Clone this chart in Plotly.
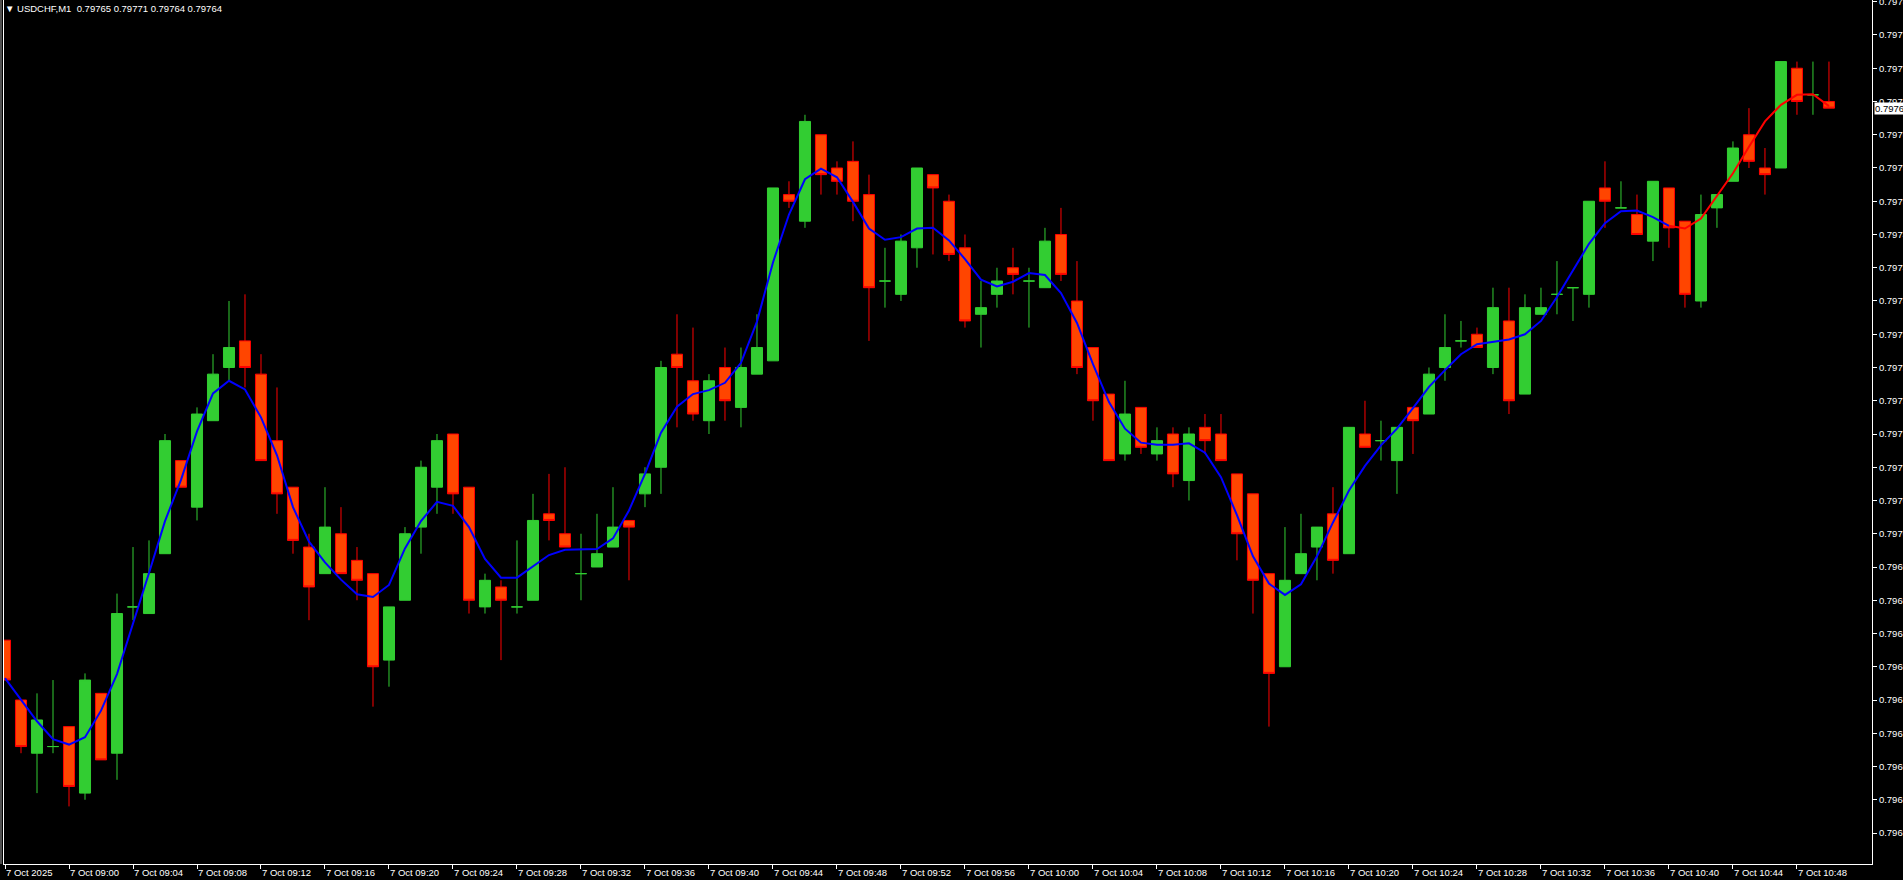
import plotly.graph_objects as go

# ---------------- data (USDCHF, M1, 7 Oct 2025, 08:56 .. 10:50) ----------------
bar_times = []
for k in range(115):
    t = 8 * 60 + 56 + k
    bar_times.append(f"7 Oct {t // 60:02d}:{t % 60:02d}")

open_ = [0.79684, 0.79675, 0.79667, 0.79668, 0.79671, 0.79661, 0.79676, 0.79667, 0.79689, 0.79688,
         0.79697, 0.79711, 0.79704, 0.79717, 0.79725, 0.79729, 0.79724, 0.79714, 0.79707, 0.79698,
         0.79694, 0.79700, 0.79696, 0.79694, 0.79681, 0.79690, 0.79701, 0.79707, 0.79715, 0.79707,
         0.79689, 0.79692, 0.79689, 0.79690, 0.79703, 0.79700, 0.79694, 0.79695, 0.79698, 0.79702,
         0.79706, 0.79710, 0.79727, 0.79723, 0.79717, 0.79725, 0.79719, 0.79724, 0.79726, 0.79751,
         0.79747, 0.79760, 0.79755, 0.79756, 0.79751, 0.79738, 0.79736, 0.79743, 0.79754, 0.79750,
         0.79743, 0.79733, 0.79736, 0.79740, 0.79738, 0.79737, 0.79745, 0.79735, 0.79728, 0.79721,
         0.79712, 0.79719, 0.79712, 0.79715, 0.79708, 0.79716, 0.79715, 0.79709, 0.79706, 0.79694,
         0.79680, 0.79694, 0.79698, 0.79703, 0.79697, 0.79715, 0.79714, 0.79711, 0.79719, 0.79718,
         0.79725, 0.79729, 0.79730, 0.79725, 0.79732, 0.79721, 0.79733, 0.79736, 0.79737, 0.79736,
         0.79752, 0.79749, 0.79748, 0.79744, 0.79752, 0.79747, 0.79735, 0.79749, 0.79753, 0.79760,
         0.79755, 0.79755, 0.79770, 0.79766, 0.79765]
high = [0.79684, 0.79675, 0.79676, 0.79678, 0.79671, 0.79679, 0.79676, 0.79691, 0.79698, 0.79699,
        0.79715, 0.79711, 0.79719, 0.79727, 0.79735, 0.79736, 0.79727, 0.79722, 0.79707, 0.79700,
        0.79707, 0.79704, 0.79698, 0.79694, 0.79689, 0.79701, 0.79711, 0.79715, 0.79715, 0.79707,
        0.79694, 0.79693, 0.79699, 0.79706, 0.79709, 0.79710, 0.79700, 0.79703, 0.79707, 0.79702,
        0.79710, 0.79726, 0.79733, 0.79731, 0.79724, 0.79728, 0.79728, 0.79733, 0.79752, 0.79753,
        0.79763, 0.79760, 0.79756, 0.79759, 0.79754, 0.79743, 0.79745, 0.79755, 0.79754, 0.79751,
        0.79745, 0.79738, 0.79740, 0.79743, 0.79740, 0.79746, 0.79749, 0.79741, 0.79728, 0.79721,
        0.79723, 0.79719, 0.79716, 0.79716, 0.79716, 0.79718, 0.79718, 0.79709, 0.79706, 0.79694,
        0.79701, 0.79703, 0.79701, 0.79707, 0.79716, 0.79720, 0.79717, 0.79716, 0.79719, 0.79725,
        0.79733, 0.79732, 0.79731, 0.79737, 0.79737, 0.79736, 0.79737, 0.79741, 0.79737, 0.79750,
        0.79756, 0.79753, 0.79751, 0.79753, 0.79752, 0.79747, 0.79751, 0.79751, 0.79759, 0.79764,
        0.79758, 0.79771, 0.79771, 0.79771, 0.79771]
low = [0.79678, 0.79667, 0.79661, 0.79667, 0.79659, 0.79660, 0.79666, 0.79663, 0.79687, 0.79688,
       0.79697, 0.79707, 0.79702, 0.79717, 0.79723, 0.79722, 0.79711, 0.79703, 0.79697, 0.79687,
       0.79694, 0.79694, 0.79690, 0.79674, 0.79677, 0.79690, 0.79697, 0.79703, 0.79703, 0.79688,
       0.79688, 0.79681, 0.79688, 0.79690, 0.79699, 0.79698, 0.79690, 0.79695, 0.79698, 0.79693,
       0.79704, 0.79706, 0.79716, 0.79717, 0.79715, 0.79717, 0.79716, 0.79724, 0.79726, 0.79749,
       0.79746, 0.79751, 0.79751, 0.79747, 0.79729, 0.79734, 0.79735, 0.79740, 0.79742, 0.79741,
       0.79731, 0.79728, 0.79734, 0.79736, 0.79731, 0.79737, 0.79738, 0.79724, 0.79717, 0.79711,
       0.79711, 0.79712, 0.79711, 0.79707, 0.79705, 0.79712, 0.79711, 0.79696, 0.79688, 0.79671,
       0.79680, 0.79694, 0.79693, 0.79694, 0.79697, 0.79713, 0.79711, 0.79706, 0.79712, 0.79718,
       0.79723, 0.79728, 0.79728, 0.79724, 0.79718, 0.79721, 0.79733, 0.79733, 0.79732, 0.79734,
       0.79746, 0.79749, 0.79745, 0.79741, 0.79743, 0.79734, 0.79734, 0.79746, 0.79753, 0.79755,
       0.79751, 0.79755, 0.79763, 0.79763, 0.79764]
close = [0.79678, 0.79668, 0.79672, 0.79668, 0.79662, 0.79678, 0.79666, 0.79688, 0.79689, 0.79694,
         0.79714, 0.79707, 0.79718, 0.79724, 0.79728, 0.79725, 0.79711, 0.79706, 0.79699, 0.79692,
         0.79701, 0.79694, 0.79693, 0.79680, 0.79689, 0.79700, 0.79710, 0.79714, 0.79706, 0.79690,
         0.79693, 0.79690, 0.79689, 0.79702, 0.79702, 0.79698, 0.79694, 0.79697, 0.79701, 0.79701,
         0.79709, 0.79725, 0.79725, 0.79718, 0.79723, 0.79720, 0.79725, 0.79728, 0.79752, 0.79750,
         0.79762, 0.79754, 0.79753, 0.79750, 0.79737, 0.79738, 0.79744, 0.79755, 0.79752, 0.79742,
         0.79732, 0.79734, 0.79738, 0.79739, 0.79738, 0.79744, 0.79739, 0.79725, 0.79720, 0.79711,
         0.79718, 0.79713, 0.79714, 0.79709, 0.79715, 0.79714, 0.79711, 0.79700, 0.79693, 0.79679,
         0.79693, 0.79697, 0.79701, 0.79696, 0.79716, 0.79713, 0.79714, 0.79716, 0.79717, 0.79724,
         0.79728, 0.79729, 0.79728, 0.79734, 0.79720, 0.79734, 0.79734, 0.79736, 0.79737, 0.79750,
         0.79750, 0.79749, 0.79745, 0.79753, 0.79746, 0.79736, 0.79748, 0.79751, 0.79758, 0.79756,
         0.79754, 0.79771, 0.79765, 0.79766, 0.79764]

# moving average line (blue part: bars 0..104, red part: bars 104..114)
ma_blue = [0.796783, 0.796750, 0.796718, 0.796691, 0.796683, 0.796694, 0.796734, 0.796789, 0.796864, 0.796941,
           0.797019, 0.797081, 0.797154, 0.797211, 0.797230, 0.797217, 0.797175, 0.797118, 0.797040, 0.796988,
           0.796957, 0.796931, 0.796909, 0.796905, 0.796923, 0.796978, 0.797019, 0.797048, 0.797042, 0.797010,
           0.796962, 0.796934, 0.796934, 0.796951, 0.796968, 0.796976, 0.796977, 0.796977, 0.796993, 0.797035,
           0.797090, 0.797152, 0.797191, 0.797210, 0.797216, 0.797227, 0.797257, 0.797319, 0.797408, 0.797480,
           0.797533, 0.797549, 0.797536, 0.797499, 0.797459, 0.797442, 0.797446, 0.797459, 0.797460, 0.797441,
           0.797413, 0.797382, 0.797372, 0.797379, 0.797392, 0.797389, 0.797362, 0.797317, 0.797255, 0.797198,
           0.797158, 0.797137, 0.797134, 0.797134, 0.797136, 0.797122, 0.797085, 0.797028, 0.796966, 0.796925,
           0.796908, 0.796924, 0.796966, 0.797017, 0.797065, 0.797102, 0.797133, 0.797158, 0.797189, 0.797221,
           0.797246, 0.797270, 0.797285, 0.797289, 0.797292, 0.797300, 0.797320, 0.797356, 0.797397, 0.797436,
           0.797467, 0.797485, 0.797486, 0.797476, 0.797463]
ma_red = [0.797463, 0.797459, 0.797474, 0.797508, 0.797542, 0.797582, 0.797620, 0.797645, 0.797660, 0.797661,
          0.797643]

x_tick_labels = ["7 Oct 2025", "7 Oct 09:00", "7 Oct 09:04", "7 Oct 09:08", "7 Oct 09:12", "7 Oct 09:16",
                 "7 Oct 09:20", "7 Oct 09:24", "7 Oct 09:28", "7 Oct 09:32", "7 Oct 09:36", "7 Oct 09:40",
                 "7 Oct 09:44", "7 Oct 09:48", "7 Oct 09:52", "7 Oct 09:56", "7 Oct 10:00", "7 Oct 10:04",
                 "7 Oct 10:08", "7 Oct 10:12", "7 Oct 10:16", "7 Oct 10:20", "7 Oct 10:24", "7 Oct 10:28",
                 "7 Oct 10:32", "7 Oct 10:36", "7 Oct 10:40", "7 Oct 10:44", "7 Oct 10:48"]
x_tick_bars = [0, 4, 8, 12, 16, 20, 24, 28, 32, 36, 40, 44, 48, 52, 56, 60, 64, 68, 72, 76,
               80, 84, 88, 92, 96, 100, 104, 108, 112]

y_tick_labels = ["0.79655", "0.79660", "0.79665", "0.79670", "0.79675", "0.79680", "0.79685", "0.79690",
                 "0.79695", "0.79700", "0.79705", "0.79710", "0.79715", "0.79720", "0.79725", "0.79730",
                 "0.79735", "0.79740", "0.79745", "0.79750", "0.79755", "0.79760", "0.79765", "0.79770",
                 "0.79775", "0.79780"]

symbol = "USDCHF,M1"
last_price = 0.79764

# ---------------- figure ----------------
n = len(open_)
xs = list(range(n))
bull = [i for i in xs if close[i] >= open_[i]]
bear = [i for i in xs if close[i] < open_[i]]

GREEN = "#32CD32"
RED_LINE = "#FF0000"
RED_FILL = "#FF4500"

fig = go.Figure()


def candles(idx, line_color, fill_color):
    style = dict(line=dict(color=line_color, width=1), fillcolor=fill_color)
    return go.Candlestick(
        x=idx,
        open=[open_[i] for i in idx],
        high=[high[i] for i in idx],
        low=[low[i] for i in idx],
        close=[close[i] for i in idx],
        text=[bar_times[i] for i in idx],
        increasing=style,
        decreasing=style,
        whiskerwidth=0,
        showlegend=False,
    )


fig.add_trace(candles(bull, GREEN, GREEN))
fig.add_trace(candles(bear, RED_LINE, RED_FILL))

fig.add_trace(go.Scatter(x=list(range(len(ma_blue))), y=ma_blue, mode="lines",
                         line=dict(color="#0000FF", width=2), showlegend=False, hoverinfo="skip"))
fig.add_trace(go.Scatter(x=list(range(len(ma_blue) - 1, len(ma_blue) - 1 + len(ma_red))), y=ma_red,
                         mode="lines", line=dict(color="#FF0000", width=2), showlegend=False,
                         hoverinfo="skip"))

FONT = "Liberation Sans, Arial, sans-serif"
FS = 9.5

fig.update_layout(
    width=1903, height=880,
    paper_bgcolor="#000000", plot_bgcolor="#000000",
    margin=dict(l=4, r=31, t=0, b=16, pad=0),
    showlegend=False,
    boxgap=0.31, boxgroupgap=0,
    font=dict(family=FONT, size=FS, color="#FFFFFF"),
    xaxis=dict(
        range=[-0.0625, 116.69],
        tickmode="array", tickvals=x_tick_bars, ticktext=x_tick_labels,
        ticks="outside", ticklen=4, tickwidth=1, tickcolor="#FFFFFF",
        ticklabelposition="outside right",
        showline=True, linecolor="#FFFFFF", linewidth=1,
        showgrid=False, zeroline=False, automargin=False,
        tickfont=dict(family=FONT, size=FS, color="#FFFFFF"),
        rangeslider=dict(visible=False), fixedrange=True,
    ),
    yaxis=dict(
        side="right",
        range=[0.7965034, 0.7978026],
        tickmode="array", tickvals=[float(v) for v in y_tick_labels], ticktext=y_tick_labels,
        ticks="outside", ticklen=4, tickwidth=1, tickcolor="#FFFFFF",
        ticklabeloverflow="allow",
        showline=True, mirror=True, linecolor="#FFFFFF", linewidth=1,
        showgrid=False, zeroline=False, automargin=False,
        tickfont=dict(family=FONT, size=FS, color="#FFFFFF"),
        fixedrange=True,
    ),
)

# current price marker on the price scale
fig.add_annotation(
    xref="paper", yref="y", x=1 + 2 / 1868, y=last_price,
    xanchor="left", yanchor="middle", showarrow=False,
    text=f"{last_price:.5f}", bgcolor="#FFFFFF", borderpad=0,
    font=dict(family=FONT, size=FS, color="#000000"),
)

# symbol / OHLC header
fig.add_annotation(
    xref="paper", yref="paper", x=-1 / 1868, y=1 - 8 / 864,
    xanchor="left", yanchor="middle", showarrow=False,
    text="\u25bc\u00a0" + symbol + "\u00a0\u00a0" + " ".join(
        f"{v:.5f}" for v in (open_[-1], high[-1], low[-1], close[-1])),
    font=dict(family=FONT, size=FS, color="#FFFFFF"),
)

# outer window edge
fig.add_shape(type="line", xref="paper", yref="paper", x0=-3 / 1868, x1=-3 / 1868, y0=0, y1=1,
              line=dict(color="#A0A0A0", width=1))

fig.write_html("out.html", config={"displayModeBar": False},
               post_script="document.body.style.margin='0';")
